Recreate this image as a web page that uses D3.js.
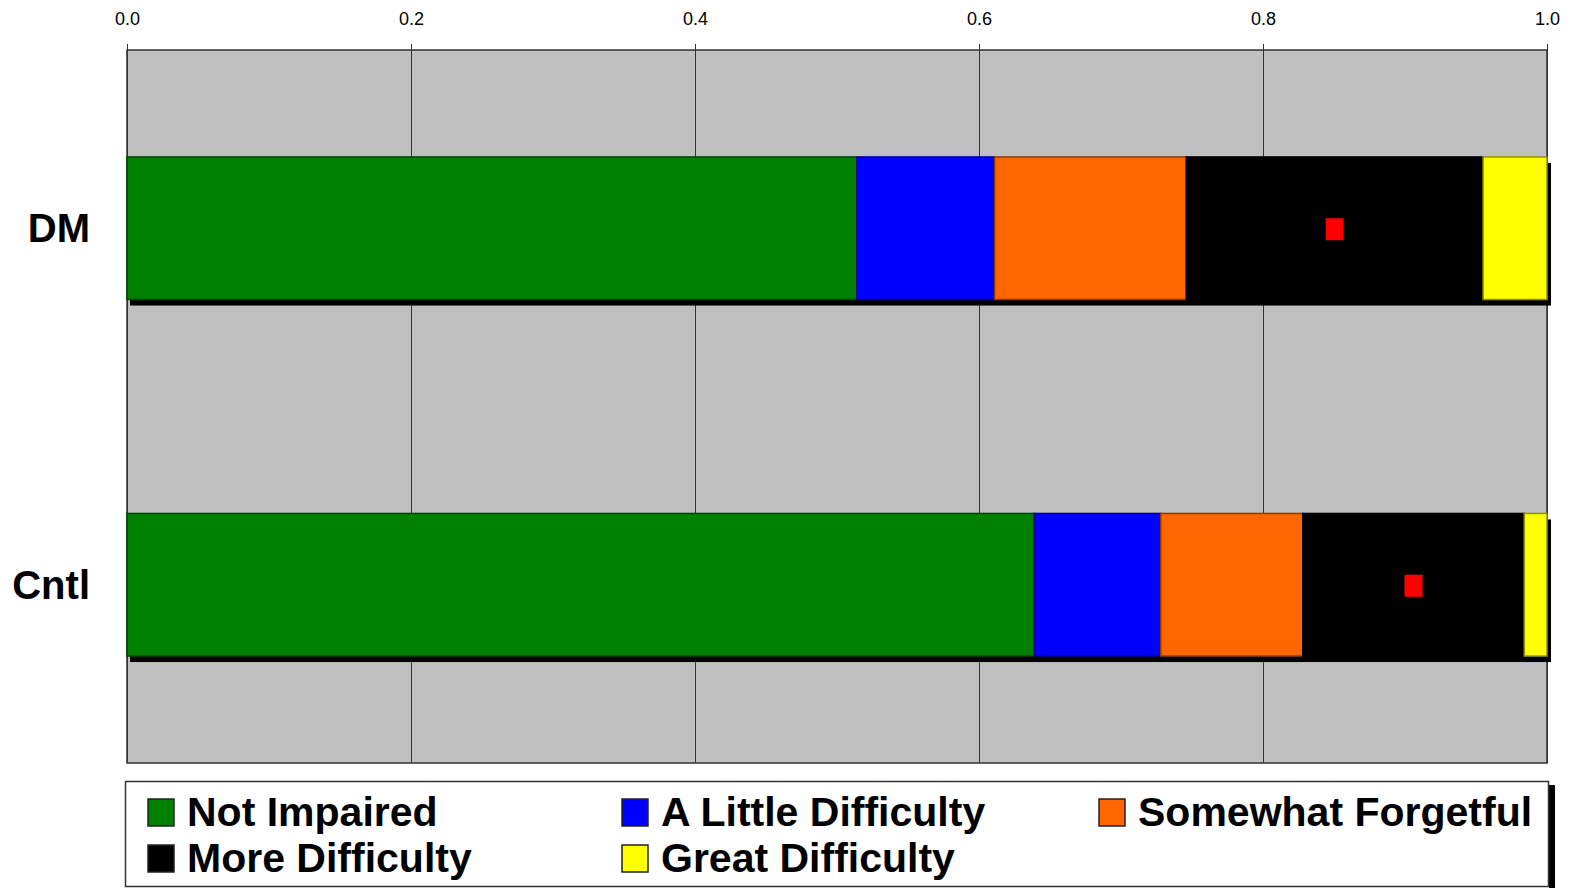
<!DOCTYPE html>
<html>
<head>
<meta charset="utf-8">
<script src="https://cdn.jsdelivr.net/npm/d3@7"></script>
<style>
  html, body { margin: 0; padding: 0; background: #fff; }
  svg { display: block; }
</style>
</head>
<body>
<svg id="chart" width="1569" height="888"></svg>
<script>
const categories = ["DM", "Cntl"];
const seriesNames = ["Not Impaired", "A Little Difficulty", "Somewhat Forgetful", "More Difficulty", "Great Difficulty"];
const seriesColors = ["#008000", "#0000ff", "#ff6600", "#000000", "#ffff00"];
const notImpaired = [0.514, 0.639];
const littleDifficulty = [0.097, 0.089];
const somewhatForgetful = [0.135, 0.100];
const moreDifficulty = [0.209, 0.156];
const greatDifficulty = [0.045, 0.016];
const tickValues = [0, 0.2, 0.4, 0.6, 0.8, 1.0];

(function () {
const seriesValues = [notImpaired, littleDifficulty, somewhatForgetful, moreDifficulty, greatDifficulty];
const rows = categories.map((c, i) => {
  const r = { cat: c };
  seriesNames.forEach((s, j) => r[s] = seriesValues[j][i]);
  return r;
});
const stacked = d3.stack().keys(seriesNames)(rows);

const svg = d3.select("#chart");
const pLeft = 127, pRight = 1547, pTop = 50, pBottom = 763;

const x = d3.scaleLinear().domain([0, 1]).range([pLeft, pRight]);
const y = d3.scaleBand().domain(categories).range([pTop, pBottom]).paddingInner(0.6).paddingOuter(0.3);

// plot background
svg.append("rect").attr("x", pLeft).attr("y", pTop).attr("width", pRight - pLeft).attr("height", pBottom - pTop)
  .attr("fill", "#c0c0c0");

// gridlines
svg.append("g").selectAll("line").data(tickValues).join("line")
  .attr("x1", d => x(d)).attr("x2", d => x(d)).attr("y1", pTop).attr("y2", pBottom)
  .attr("stroke", "#333").attr("stroke-width", 1).attr("shape-rendering", "crispEdges");

// plot border
svg.append("rect").attr("x", pLeft).attr("y", pTop).attr("width", pRight - pLeft).attr("height", pBottom - pTop)
  .attr("fill", "none").attr("stroke", "#333").attr("stroke-width", 1.5);

// top axis
const axis = d3.axisTop(x).tickValues(tickValues).tickFormat(d3.format(".1f")).tickSize(6).tickPadding(19);
const ag = svg.append("g").attr("transform", `translate(0,${pTop})`).call(axis);
ag.select(".domain").remove();
ag.selectAll(".tick line").attr("stroke", "#333");
ag.selectAll(".tick text").attr("font-family", "Liberation Sans, Arial, sans-serif").attr("font-size", 18).attr("fill", "#000");

// bar shadows
svg.append("g").selectAll("rect").data(categories).join("rect")
  .attr("x", x(0) + 3).attr("y", d => y(d) + 6)
  .attr("width", x(1) - x(0) + 1).attr("height", y.bandwidth())
  .attr("fill", "#000");

// stacked segments
svg.append("g").selectAll("g").data(stacked).join("g")
  .each(function(layer, li) {
    const col = seriesColors[li];
    d3.select(this).selectAll("rect").data(layer).join("rect")
      .attr("x", d => x(d[0])).attr("y", d => y(d.data.cat))
      .attr("width", d => x(d[1]) - x(d[0])).attr("height", y.bandwidth())
      .attr("fill", col)
      .attr("stroke", li === 3 ? "#000" : d3.color(col).darker(1.6))
      .attr("stroke-width", 1.5);
  });

// red markers centered in "More Difficulty" segments
const mdLayer = stacked[3];
svg.append("g").selectAll("rect").data(mdLayer).join("rect")
  .attr("x", d => (x(d[0]) + x(d[1])) / 2 - 9)
  .attr("y", d => y(d.data.cat) + y.bandwidth() / 2 - 10)
  .attr("width", 18).attr("height", 22)
  .attr("fill", "#ff0000");

// category labels
svg.append("g").selectAll("text").data(categories).join("text")
  .attr("x", 90).attr("y", d => y(d) + y.bandwidth() / 2 + 14)
  .attr("text-anchor", "end")
  .attr("font-family", "Liberation Sans, Arial, sans-serif").attr("font-weight", "bold").attr("font-size", 40)
  .attr("fill", "#000")
  .text(d => d);

// legend
const lg = svg.append("g");
lg.append("rect").attr("x", 1549).attr("y", 785).attr("width", 6).attr("height", 110).attr("fill", "#000");
lg.append("rect").attr("x", 125.5).attr("y", 781.5).attr("width", 1423).attr("height", 105)
  .attr("fill", "#fff").attr("stroke", "#333").attr("stroke-width", 1.5);
const colX = [148, 622, 1099];
const rowY = [826, 872];
const items = lg.selectAll("g.item").data(seriesNames).join("g").attr("class", "item")
  .attr("transform", (d, i) => `translate(${colX[i % 3]},${rowY[Math.floor(i / 3)]})`);
items.append("rect").attr("x", 0).attr("y", -27).attr("width", 26).attr("height", 27)
  .attr("fill", (d, i) => seriesColors[i]).attr("stroke", "#222").attr("stroke-width", 1.5);
items.append("text").attr("x", 39).attr("y", 0)
  .attr("font-family", "Liberation Sans, Arial, sans-serif").attr("font-weight", "bold").attr("font-size", 41)
  .attr("fill", "#000").text(d => d);
})();
</script>
</body>
</html>
